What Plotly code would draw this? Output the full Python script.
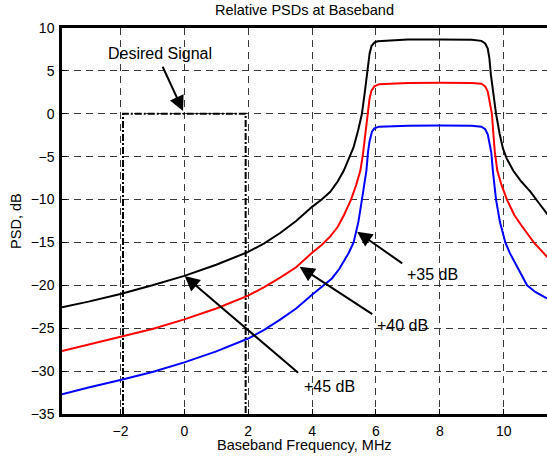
import plotly.graph_objects as go

# ---------------- text ----------------
title_text = "Relative PSDs at Baseband"
x_label = "Baseband Frequency, MHz"
y_label = "PSD, dB"

# ---------------- ticks ----------------
x_ticks = [-2, 0, 2, 4, 6, 8, 10]
y_ticks = [-35, -30, -25, -20, -15, -10, -5, 0, 5, 10]

# ---------------- desired signal (rectangle, dash-dot) ----------------
desired_freq = [-1.92, -1.92, 1.92, 1.92]
desired_psd = [-35, 0, 0, -35]

# ---------------- interferer PSDs ----------------
black_freq = [-3.83, -3, -2, -1, 0, 1, 2, 2.5, 3, 3.5, 4, 4.3, 4.57, 4.8, 4.99, 5.18,
              5.30, 5.45, 5.56, 5.65, 5.74, 5.80, 5.86, 5.95, 6.05, 6.3, 6.8, 7.0, 8.0,
              9.0, 9.3, 9.42, 9.5, 9.55, 9.6, 9.68, 9.76, 9.87, 9.98, 10.09, 10.30,
              10.55, 10.84, 11.1, 11.37]
black_psd = [-22.57, -21.9, -21.0, -20.0, -18.9, -17.6, -16.1, -15.1, -13.9, -12.5,
             -10.85, -10.0, -9.1, -7.9, -6.65, -5.0, -3.9, -1.8, 0.0, 2.5, 5.0, 7.0,
             7.9, 8.3, 8.45, 8.5, 8.55, 8.65, 8.65, 8.62, 8.5, 8.2, 7.6, 6.5, 4.5, 2.2,
             0.0, -2.3, -4.1, -5.2, -6.65, -7.9, -9.1, -10.4, -11.73]

red_freq = [-3.83, -3, -2, -1, 0, 1, 2, 2.5, 3, 3.5, 4, 4.3, 4.57, 4.8, 5.0, 5.22,
            5.38, 5.51, 5.59, 5.66, 5.74, 5.80, 5.86, 5.95, 6.1, 6.5, 7, 8, 9, 9.3,
            9.42, 9.5, 9.57, 9.63, 9.68, 9.72, 9.80, 9.93, 10.10, 10.33, 10.55, 10.94,
            11.37]
red_psd = [-27.66, -26.9, -26.07, -25.1, -23.97, -22.7, -21.2, -20.2, -19.1, -17.9,
           -16.2, -15.3, -14.3, -13.2, -11.8, -10.0, -8.3, -6.65, -4.8, -2.5, 0.0, 1.8,
           2.7, 3.2, 3.45, 3.55, 3.6, 3.62, 3.6, 3.5, 3.2, 2.6, 1.3, 0.0, -2.5, -4.4,
           -6.65, -8.3, -10.0, -11.8, -13.0, -15.0, -16.73]

blue_freq = [-3.83, -3, -2, -1, 0, 1, 2, 2.5, 3, 3.5, 4, 4.3, 4.62, 4.85, 5.0, 5.15,
             5.30, 5.45, 5.56, 5.64, 5.70, 5.75, 5.80, 5.875, 5.95, 6.1, 6.5, 7, 8, 9,
             9.3, 9.42, 9.5, 9.56, 9.61, 9.66, 9.71, 9.76, 9.88, 10.05, 10.2, 10.35,
             10.5, 10.73, 11.0, 11.37]
blue_psd = [-32.7, -31.9, -31.04, -30.1, -28.98, -27.7, -26.2, -25.2, -24.0, -22.7,
            -21.1, -20.2, -19.2, -18.1, -17.2, -16.2, -15.0, -12.6, -10.0, -8.0, -6.65,
            -4.5, -3.2, -2.1, -1.7, -1.5, -1.42, -1.4, -1.38, -1.4, -1.5, -1.8, -2.4,
            -3.4, -4.5, -6.65, -8.3, -10.0, -12.6, -15.0, -16.3, -17.4, -18.5, -20.0,
            -20.8, -21.54]

# ---------------- annotations (label, text pos, arrow head, arrow tail) ----------------
ann_labels = ["Desired Signal", "+35 dB", "+40 dB", "+45 dB"]
ann_text_x = [-0.75, 7.76, 6.82, 4.53]
ann_text_y = [7.05, -18.71, -24.63, -31.82]
ann_head_x = [-0.04, 5.41, 3.61, 0.01]
ann_head_y = [0.33, -13.76, -17.84, -18.92]
ann_tail_x = [-0.70, 6.87, 5.93, 3.61]
ann_tail_y = [5.66, -17.56, -23.47, -30.34]

FONT = "Liberation Sans, Arial, Helvetica, sans-serif"

fig = go.Figure()
fig.add_trace(go.Scatter(x=desired_freq, y=desired_psd, mode="lines",
                         line=dict(color="black", width=2, dash="7px,2px,2px,2px"),
                         hoverinfo="skip"))
fig.add_trace(go.Scatter(x=black_freq, y=black_psd, mode="lines",
                         line=dict(color="black", width=2)))
fig.add_trace(go.Scatter(x=red_freq, y=red_psd, mode="lines",
                         line=dict(color="#ff0000", width=2)))
fig.add_trace(go.Scatter(x=blue_freq, y=blue_psd, mode="lines",
                         line=dict(color="#0000ff", width=2)))

annotations = []
for lab, tx, ty, hx, hy, ax, ay in zip(ann_labels, ann_text_x, ann_text_y,
                                       ann_head_x, ann_head_y, ann_tail_x, ann_tail_y):
    annotations.append(dict(x=hx, y=hy, ax=ax, ay=ay, xref="x", yref="y",
                            axref="x", ayref="y", text="", showarrow=True,
                            arrowhead=2, arrowsize=1.5, arrowwidth=2,
                            arrowcolor="black", standoff=0, startstandoff=0))
    annotations.append(dict(x=tx, y=ty, xref="x", yref="y", text=lab,
                            showarrow=False, xanchor="center", yanchor="middle",
                            font=dict(family=FONT, size=16, color="black")))

# axis labels
annotations.append(dict(x=0.5, y=-0.0803, xref="paper", yref="paper", text=x_label,
                        showarrow=False, xanchor="center", yanchor="middle",
                        font=dict(family=FONT, size=14.5, color="black")))
annotations.append(dict(x=-0.095, y=0.5, xref="paper", yref="paper", text=y_label,
                        showarrow=False, xanchor="center", yanchor="middle",
                        textangle=-90,
                        font=dict(family=FONT, size=14.5, color="black")))

fig.update_layout(
    width=547, height=459,
    margin=dict(l=62, r=0, t=28, b=45),
    plot_bgcolor="white", paper_bgcolor="white",
    showlegend=False,
    font=dict(family=FONT, size=14, color="black"),
    title=dict(text=title_text, x=0.5, xref="paper", y=0.978, yref="container",
               xanchor="center", yanchor="middle",
               font=dict(family=FONT, size=14.5, color="black")),
    annotations=annotations,
)

grid_common = dict(showgrid=True, gridcolor="#3a3a3a", gridwidth=1,
                   griddash="7px,5px", zeroline=False,
                   showline=True, linecolor="black", linewidth=2.5,
                   ticks="inside", ticklen=5, tickwidth=1, tickcolor="black",
                   ticklabelstandoff=2)

fig.update_xaxes(range=[-3.83, 11.355], tickvals=x_ticks, mirror=True, **grid_common)
fig.update_yaxes(range=[-35, 10], tickvals=y_ticks, mirror=False, **grid_common)

fig.write_html("out.html",
               config={"displayModeBar": False},
               post_script="document.body.style.margin='0';"
                           "document.body.style.overflow='hidden';")
